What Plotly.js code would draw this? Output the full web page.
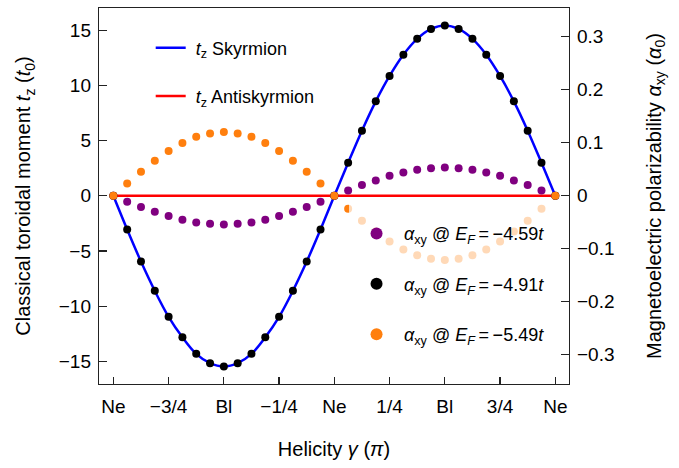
<!DOCTYPE html>
<html>
<head>
<meta charset="utf-8">
<script src="https://cdn.plot.ly/plotly-3.0.1.min.js"></script>
<style>html,body{margin:0;padding:0;background:#fff;}#chart{width:679px;height:468px;}</style>
</head>
<body>
<div id="chart"></div>
<script>
// helicity gamma in units of pi
const helicity = [-1, -0.9375, -0.875, -0.8125, -0.75, -0.6875, -0.625, -0.5625, -0.5,
  -0.4375, -0.375, -0.3125, -0.25, -0.1875, -0.125, -0.0625, 0,
  0.0625, 0.125, 0.1875, 0.25, 0.3125, 0.375, 0.4375, 0.5,
  0.5625, 0.625, 0.6875, 0.75, 0.8125, 0.875, 0.9375, 1];

const xTickVals = [-1, -0.75, -0.5, -0.25, 0, 0.25, 0.5, 0.75, 1];
const xTickText = ['Ne', '\u22123/4', 'Bl', '\u22121/4', 'Ne', '1/4', 'Bl', '3/4', 'Ne'];
const yTickVals = [-15, -10, -5, 0, 5, 10, 15];
const y2TickVals = [-0.3, -0.2, -0.1, 0, 0.1, 0.2, 0.3];

// classical toroidal moment t_z (t0)
const tzSkyrmion = [0, -3.05, -5.95, -8.6, -10.95, -12.8, -14.3, -15.15, -15.45,
  -15.15, -14.3, -12.8, -10.95, -8.6, -5.95, -3.05, 0,
  3.0, 5.9, 8.55, 10.85, 12.77, 14.2, 15.1, 15.42,
  15.1, 14.2, 12.77, 10.85, 8.55, 5.9, 3.0, 0];
const tzAntiskyrmion = [0, 0, 0, 0, 0, 0, 0, 0, 0, 0, 0, 0, 0, 0, 0, 0, 0,
  0, 0, 0, 0, 0, 0, 0, 0, 0, 0, 0, 0, 0, 0, 0, 0];

// magnetoelectric polarizability alpha_xy (alpha0)
const alphaEF459 = [0, -0.0113, -0.0213, -0.0302, -0.0383, -0.0453, -0.0504, -0.0528, -0.0541,
  -0.0528, -0.0504, -0.0453, -0.0383, -0.0302, -0.0213, -0.0113, 0,
  0.010, 0.0202, 0.0289, 0.0377, 0.044, 0.049, 0.0519, 0.0534,
  0.0519, 0.049, 0.044, 0.0377, 0.0289, 0.0202, 0.010, 0];
const alphaEF491 = [0, -0.0636, -0.124, -0.179, -0.228, -0.267, -0.298, -0.316, -0.322,
  -0.316, -0.298, -0.267, -0.228, -0.179, -0.124, -0.0636, 0,
  0.0623, 0.1226, 0.178, 0.226, 0.266, 0.296, 0.3145, 0.321,
  0.3145, 0.296, 0.266, 0.226, 0.178, 0.1226, 0.0623, 0];
const alphaEF549 = [0, 0.0232, 0.0453, 0.066, 0.0843, 0.0994, 0.111, 0.1175, 0.120,
  0.1175, 0.111, 0.0994, 0.0843, 0.066, 0.0453, 0.0232, 0,
  -0.0245, -0.0472, -0.0674, -0.0862, -0.1013, -0.112, -0.119, -0.121,
  -0.119, -0.112, -0.1013, -0.0862, -0.0674, -0.0472, -0.0245, 0];

const FONT = 'Liberation Sans, Arial, Helvetica, sans-serif';
const FS = 19;
const LFS = 18;

const traces = [
  {x: helicity, y: tzSkyrmion, type: 'scatter', mode: 'lines', line: {color: '#0000ff', width: 2.5, shape: 'spline'},
   name: '\u00a0<i>t</i><sub>z</sub> Skyrmion', legend: 'legend', legendgroup: 'a', yaxis: 'y'},
  {x: helicity, y: tzAntiskyrmion, type: 'scatter', mode: 'lines', line: {color: '#ff0000', width: 2.5},
   name: '\u00a0<i>t</i><sub>z</sub> Antiskyrmion', legend: 'legend', legendgroup: 'b', yaxis: 'y'},
  {x: helicity, y: alphaEF459, type: 'scatter', mode: 'markers', marker: {color: '#800080', size: 8},
   name: '<i>α</i><sub>xy</sub> @ <i>E<sub>F</sub></i>\u2009=\u2009\u22124.59<i>t</i>', legend: 'legend2', legendgroup: 'c', yaxis: 'y2'},
  {x: helicity, y: alphaEF491, type: 'scatter', mode: 'markers', marker: {color: '#000000', size: 8},
   name: '<i>α</i><sub>xy</sub> @ <i>E<sub>F</sub></i>\u2009=\u2009\u22124.91<i>t</i>', legend: 'legend2', legendgroup: 'd', yaxis: 'y2'},
  {x: helicity, y: alphaEF549, type: 'scatter', mode: 'markers', marker: {color: '#ff7f0e', size: 8},
   name: '<i>α</i><sub>xy</sub> @ <i>E<sub>F</sub></i>\u2009=\u2009\u22125.49<i>t</i>', legend: 'legend2', legendgroup: 'e', yaxis: 'y2'}
];

const axisCommon = {
  showgrid: false, zeroline: false, showline: true, linecolor: '#222', linewidth: 1.2,
  ticks: 'inside', tickcolor: '#222', tickwidth: 1.2,
  tickfont: {family: FONT, size: FS, color: '#000'}
};

const layout = {
  width: 679, height: 468,
  margin: {l: 99, r: 110, t: 8, b: 84},
  paper_bgcolor: '#fff', plot_bgcolor: '#fff',
  font: {family: FONT, size: FS, color: '#000'},
  showlegend: true,
  xaxis: Object.assign({}, axisCommon, {
    range: [-1.065, 1.062], tickmode: 'array', tickvals: xTickVals, ticktext: xTickText,
    ticklen: 7, mirror: true, ticklabelstandoff: 5,
    title: {text: 'Helicity <i>γ</i> (<i>π</i>)', font: {family: FONT, size: 20}, standoff: 26}
  }),
  yaxis: Object.assign({}, axisCommon, {
    range: [-17.03, 17.0], tickmode: 'array', tickvals: yTickVals, ticklen: 8, ticklabelstandoff: 3,
    title: {text: 'Classical toroidal moment <i>t</i><sub>z</sub> (<i>t</i><sub>0</sub>)', font: {family: FONT, size: 20}, standoff: 22}
  }),
  yaxis2: Object.assign({}, axisCommon, {
    overlaying: 'y', side: 'right',
    range: [-0.355, 0.354], tickmode: 'array', tickvals: y2TickVals, ticklen: 8, ticklabelstandoff: 3,
    title: {text: 'Magnetoelectric polarizability <i>α</i><sub>xy</sub> (<i>α</i><sub>0</sub>)', font: {family: FONT, size: 20}, standoff: 33}
  }),
  legend: {
    x: 0.11, y: 0.943, xanchor: 'left', yanchor: 'top',
    bgcolor: 'rgba(255,255,255,0)', borderwidth: 0,
    font: {family: FONT, size: LFS, color: '#000'}, tracegroupgap: 22
  },
  legend2: {
    x: 0.532, y: 0.487, xanchor: 'left', yanchor: 'top',
    bgcolor: 'rgba(255,255,255,0.7)', borderwidth: 0, itemsizing: 'constant', itemwidth: 45,
    title: {text: '\u00a0', font: {family: FONT, size: 11}},
    font: {family: FONT, size: LFS, color: '#000'}, tracegroupgap: 24
  }
};

Plotly.newPlot('chart', traces, layout, {staticPlot: true, displayModeBar: false});
</script>
</body>
</html>
